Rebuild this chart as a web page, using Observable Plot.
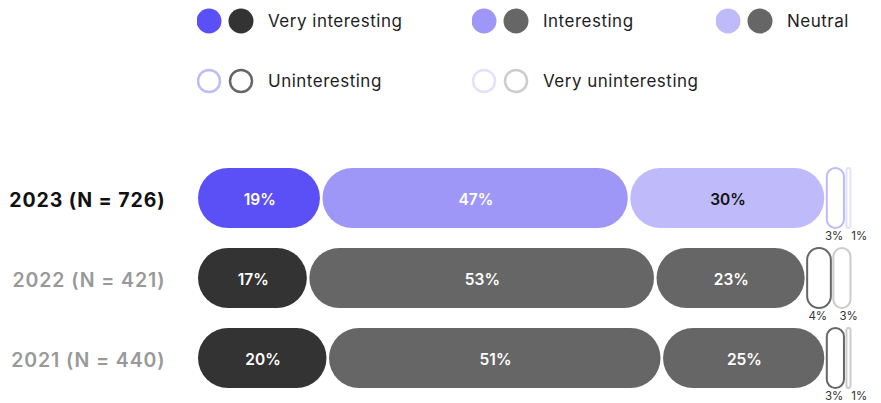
<!DOCTYPE html>
<html><head><meta charset="utf-8">
<script src="https://cdn.jsdelivr.net/npm/d3@7"></script>
<script src="https://cdn.jsdelivr.net/npm/@observablehq/plot@0.6"></script>
<style>
body{margin:0;background:#fff;font-family:Inter,"Noto Sans",sans-serif;}
#wrap{position:relative;width:881px;height:403px;overflow:hidden}
#legend{position:absolute;left:0;top:0;width:881px;height:110px;z-index:2}
.li{position:absolute;display:flex;align-items:center;font-size:17px;letter-spacing:0.5px;color:#1e1e1e;white-space:nowrap}
.li svg{margin-right:14px}
.yl{letter-spacing:0.9px}
</style></head>
<body><div id="wrap"><div id="legend"></div><div id="chart"></div></div>
<script>
const years = ["2023", "2022", "2021"];
const sampleSizes = [726, 421, 440];
const categories = ["Very interesting", "Interesting", "Neutral", "Uninteresting", "Very uninteresting"];
const values2023 = [19, 47, 30, 3, 1];
const values2022 = [17, 53, 23, 4, 3];
const values2021 = [20, 51, 25, 3, 1];

// styles
const purple = ["#5b50f5", "#9e97f8", "#bfbafa", "#bfbafa", "#e3e1fd"];
const gray = ["#333333", "#666666", "#666666", "#666666", "#cccccc"];
const outlined = [false, false, false, true, true];

const valuesByYear = {"2023": values2023, "2022": values2022, "2021": values2021};
const rows = [];
years.forEach((y, yi) => categories.forEach((c, ci) => rows.push({
  year: y, category: c, ci, value: valuesByYear[y][ci]
})));
const pal = d => d.year === "2023" ? purple[d.ci] : gray[d.ci];

// legend (HTML)
const legendPos = [[197, 8], [472, 8], [716, 8], [197, 68], [472, 68]];
const leg = document.getElementById("legend");
categories.forEach((c, i) => {
  const el = document.createElement("div");
  el.className = "li";
  el.style.left = legendPos[i][0] + "px";
  el.style.top = legendPos[i][1] + "px";
  const o = outlined[i];
  const c1 = purple[i], c2 = gray[i];
  el.innerHTML = `<svg width="57" height="26">` +
    (o ? `<circle cx="12" cy="13" r="11" fill="#fff" stroke="${c1}" stroke-width="2.5"/>
          <circle cx="44" cy="13" r="11" fill="#fff" stroke="${c2}" stroke-width="2.5"/>`
       : `<circle cx="12" cy="13" r="12.5" fill="${c1}"/>
          <circle cx="44" cy="13" r="12.5" fill="${c2}"/>`) +
    `</svg><span>${c}</span>`;
  leg.appendChild(el);
});

const yearLabel = y => `${y} (N = ${sampleSizes[years.indexOf(y)]})`;
const txt = (d, cond) => cond(d) ? d.value + "%" : "";

const chart = Plot.plot({
  width: 881, height: 403,
  marginTop: 160, marginBottom: 7, marginLeft: 197, marginRight: 29,
  x: {domain: [0, 100], axis: null},
  y: {domain: years, axis: null, paddingInner: 0.25, paddingOuter: 0.1},
  color: {type: "identity"},
  style: {fontFamily: "Inter, 'Noto Sans', sans-serif", background: "#fff"},
  marks: [
    Plot.barX(rows, Plot.stackX({
      x: "value", y: "year",
      fill: d => outlined[d.ci] ? "#ffffff" : pal(d),
      stroke: d => outlined[d.ci] ? pal(d) : "none",
      strokeWidth: 2, insetLeft: 1, insetRight: 1.5
    })),
    Plot.text(rows, Plot.stackX({
      x: "value", y: "year",
      text: d => txt(d, d => d.value >= 10),
      fill: d => (d.year === "2023" && d.ci === 2) ? "#111111" : "#ffffff",
      fontSize: 15.5, fontWeight: 600, dy: 2
    })),
    Plot.text(rows, Plot.stackX({
      x: "value", y: "year",
      text: d => txt(d, d => d.value < 10 && d.ci === 3),
      fill: "#333", fontSize: 11.5, dy: 38, dx: -2
    })),
    Plot.text(rows, Plot.stackX({
      x: "value", y: "year",
      text: d => txt(d, d => d.value < 10 && d.ci === 4 && d.value > 1),
      fill: "#333", fontSize: 11.5, dy: 38, dx: 6
    })),
    Plot.text(rows, Plot.stackX({
      x: "value", y: "year",
      text: d => txt(d, d => d.value === 1 && d.ci === 4),
      fill: "#333", fontSize: 11.5, dy: 38, dx: 10
    })),
    Plot.text(years.filter(y => y === "2023"), {
      y: d => d, text: yearLabel, frameAnchor: "left", textAnchor: "end",
      dx: -32, dy: 2, fill: "#111", fontSize: 19.5, fontWeight: 700, className: "yl"
    }),
    Plot.text(years.filter(y => y !== "2023"), {
      y: d => d, text: yearLabel, frameAnchor: "left", textAnchor: "end",
      dx: -32, dy: 2, fill: "#999", fontSize: 19.5, fontWeight: 600, className: "yl"
    })
  ]
});
document.getElementById("chart").appendChild(chart);

// pill-shaped corners
d3.select(chart).selectAll('g[aria-label="bar"] rect').each(function() {
  const w = +this.getAttribute("width"), h = +this.getAttribute("height");
  this.setAttribute("rx", Math.min(h / 2, w / 2));
  this.setAttribute("ry", Math.min(h / 2, w / 2));
});
</script></body></html>
